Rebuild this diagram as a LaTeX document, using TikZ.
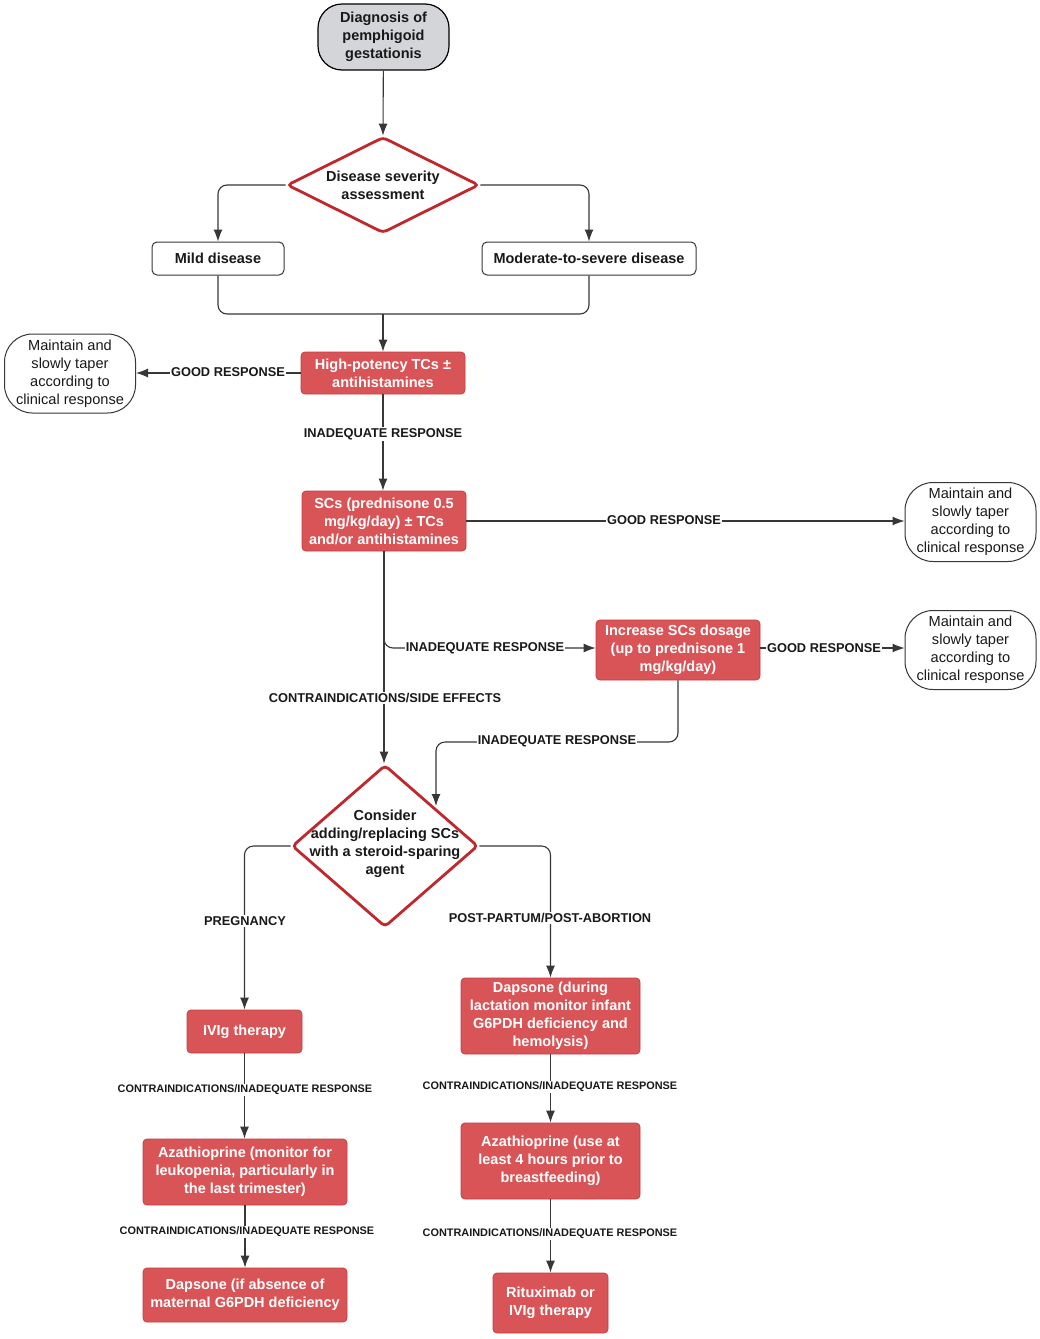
\documentclass[tikz,border=0pt]{standalone}
\usepackage{fontspec}
\setmainfont{Liberation Sans}
\usetikzlibrary{arrows.meta,shapes.geometric,calc}
\definecolor{boxred}{RGB}{217,84,87}
\definecolor{boxredd}{RGB}{198,62,66}
\definecolor{dred}{RGB}{192,40,45}
\definecolor{startgray}{RGB}{212,213,216}
\definecolor{linec}{RGB}{55,55,55}
\definecolor{txt}{RGB}{25,25,25}
\begin{document}
\begin{tikzpicture}[x=1pt,y=-1pt,
  mainfont/.style={font=\bfseries\fontsize{14.5}{18}\selectfont},
  redbox/.style={mainfont, rectangle, fill=boxred, draw=boxredd, line width=0.8pt, rounded corners=4pt, text=white, align=center, inner sep=0pt},
  whitebox/.style={mainfont, rectangle, draw=linec, line width=1pt, rounded corners=5pt, text=txt, align=center, inner sep=0pt},
  maint/.style={font=\fontsize{14.6}{18}\selectfont, rectangle, draw=linec, line width=1pt, rounded corners=28pt, text=txt, align=center, inner sep=0pt, minimum width=131pt, minimum height=79pt},
  decide/.style={diamond, draw=dred, line width=2.8pt, rounded corners=4pt, fill=white, inner sep=0pt},
  dtext/.style={mainfont, text=txt, align=center},
  conn/.style={draw=linec, line width=1.1pt, -{Latex[length=12pt,width=9pt]}, rounded corners=9pt},
  plain/.style={draw=linec, line width=1.1pt, rounded corners=9pt},
  lbl/.style={fill=white, inner sep=1pt, text=txt, font=\bfseries\fontsize{12.8}{14}\selectfont},
  slbl/.style={fill=white, inner sep=1pt, text=txt, font=\bfseries\fontsize{10.9}{12}\selectfont}
]
\useasboundingbox (0,0) rectangle (1040,1339);
\fill[white] (0,0) rectangle (1040,1339);

% nodes
\node[mainfont, rectangle, draw=black, line width=1.2pt, fill=startgray, rounded corners=24pt, align=center, inner sep=0pt, minimum width=131pt, minimum height=66pt, text=txt] (start) at (383.5,37) {Diagnosis of\\pemphigoid\\gestationis};
\node[decide, minimum width=192pt, minimum height=96pt] (d1) at (383,185) {};
\node[dtext] at (d1) {Disease severity\\assessment};
\node[whitebox, minimum width=132pt, minimum height=33pt] (mild) at (218,258.5) {Mild disease};
\node[whitebox, minimum width=214pt, minimum height=33pt] (mod) at (589,258.5) {Moderate-to-severe disease};
\coordinate (jn) at (383,314);
\node[redbox, minimum width=164pt, minimum height=42pt] (tcs) at (383,373) {High-potency TCs ±\\antihistamines};
\node[maint] (m1) at (70,373.5) {Maintain and\\slowly taper\\according to\\clinical response};
\node[redbox, minimum width=164pt, minimum height=60pt] (scs) at (384,521) {SCs (prednisone 0.5\\mg/kg/day) ± TCs\\and/or antihistamines};
\node[maint] (m2) at (970.5,522) {Maintain and\\slowly taper\\according to\\clinical response};
\node[redbox, minimum width=164pt, minimum height=60pt] (inc) at (678,650) {Increase SCs dosage\\(up to prednisone 1\\mg/kg/day)};
\node[maint] (m3) at (970.5,650) {Maintain and\\slowly taper\\according to\\clinical response};
\node[decide, minimum width=186pt, minimum height=162pt] (d2) at (385,846) {};
\node[dtext] at (385,844) {Consider\\adding/replacing SCs\\with a steroid-sparing\\agent};
\coordinate (bend) at (436,742);
\coordinate (d2in) at (436,806);
\node[redbox, minimum width=115pt, minimum height=43pt] (ivig) at (244.5,1031.5) {IVIg therapy};
\node[redbox, minimum width=204pt, minimum height=66pt] (azaL) at (245,1172) {Azathioprine (monitor for\\leukopenia, particularly in\\the last trimester)};
\node[redbox, minimum width=204pt, minimum height=54pt] (dapL) at (245,1295) {Dapsone (if absence of\\maternal G6PDH deficiency};
\node[redbox, minimum width=179pt, minimum height=76pt] (dapR) at (550.5,1016) {Dapsone (during\\lactation monitor infant\\G6PDH deficiency and\\hemolysis)};
\node[redbox, minimum width=179pt, minimum height=76pt] (azaR) at (550.5,1161) {Azathioprine (use at\\least 4 hours prior to\\breastfeeding)};
\node[redbox, minimum width=115pt, minimum height=60pt] (rit) at (550.5,1303) {Rituximab or\\IVIg therapy};

% connectors
\draw[conn] (start) -- (d1.north);
\draw[conn] (d1.west) -| (mild.north);
\draw[conn] (d1.east) -| (mod.north);
\draw[plain] (mild.south) |- (jn);
\draw[plain] (mod.south) |- (jn);
\draw[conn] (jn) -- (tcs.north);
\draw[conn] (tcs.west) -- (tcs.west -| m1.east);
\draw[conn] (tcs.south) -- (tcs.south |- scs.north);
\draw[conn] (scs.east) -- (scs.east -| m2.west);
\draw[conn] (scs.south) |- ($(inc.west)+(0,-2)$);
\draw[conn] (scs.south) -- (scs.south |- d2.north);
\draw[conn] ($(inc.east)+(0,-2)$) -- ($(inc.east -| m3.west)+(0,-2)$);
\draw[conn] (inc.south) |- (bend) -- (d2in);
\draw[conn] (d2.west) -| (ivig.north);
\draw[conn] (d2.east) -| (dapR.north);
\draw[conn] (ivig.south) -- (ivig.south |- azaL.north);
\draw[conn] (azaL.south) -- (dapL.north);
\draw[conn] (dapR.south) -- (azaR.north);
\draw[conn] (azaR.south) -- (rit.north);

% labels
\node[lbl] at (228,372) {GOOD RESPONSE};
\node[lbl] at (664,520) {GOOD RESPONSE};
\node[lbl] at (824,648) {GOOD RESPONSE};
\node[lbl] at (383,434) {INADEQUATE RESPONSE};
\node[lbl] at (485,648) {INADEQUATE RESPONSE};
\node[lbl] at (557,741) {INADEQUATE RESPONSE};
\node[lbl] at (385,698) {CONTRAINDICATIONS/SIDE EFFECTS};
\node[lbl] at (245,921) {PREGNANCY};
\node[lbl] at (550,918) {POST-PARTUM/POST-ABORTION};
\node[slbl] at (245,1090) {CONTRAINDICATIONS/INADEQUATE RESPONSE};
\node[slbl] at (247,1232) {CONTRAINDICATIONS/INADEQUATE RESPONSE};
\node[slbl] at (550,1087) {CONTRAINDICATIONS/INADEQUATE RESPONSE};
\node[slbl] at (550,1234) {CONTRAINDICATIONS/INADEQUATE RESPONSE};
\end{tikzpicture}
\end{document}
